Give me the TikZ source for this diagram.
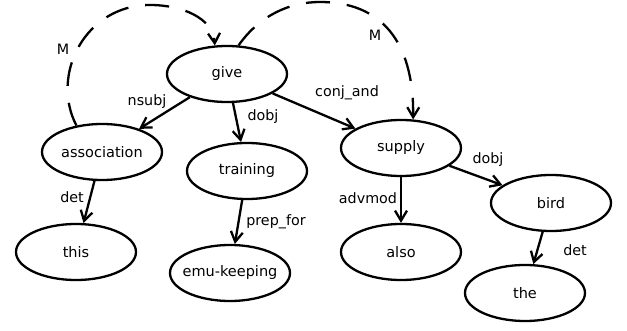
\documentclass[tikz,border=0pt]{standalone}
\usepackage{fontspec}
\setmainfont{DejaVu Sans}
\usetikzlibrary{shapes.geometric,arrows.meta}
\newcommand{\wordtext}[1]{\makebox[0pt]{#1}}
\begin{document}
\begin{tikzpicture}[x=1pt,y=-1pt,
  word/.style={ellipse,draw,line width=2.3pt,minimum width=120pt,minimum height=56pt,inner sep=0pt,font=\fontsize{14.5}{17}\selectfont},
  lbl/.style={inner sep=0pt,font=\fontsize{14.3}{17}\selectfont},
  edge/.style={line width=2.3pt,-{Straight Barb[length=10pt,width=12pt]}},
  mark edge/.style={edge,dash pattern=on 24pt off 17pt}]
\useasboundingbox (0,0) rectangle (627,331);
\node[word] (give) at (227,74) {\wordtext{give}};
\node[word] (association) at (102,152) {\wordtext{association}};
\node[word] (training) at (247,171) {\wordtext{training}};
\node[word] (supply) at (401,148) {\wordtext{supply}};
\node[word] (this) at (76,252) {\wordtext{this}};
\node[word] (emu) at (230,273) {\wordtext{emu-keeping}};
\node[word] (also) at (401,252) {\wordtext{also}};
\node[word] (bird) at (551,203) {\wordtext{bird}};
\node[word] (the) at (525,293) {\wordtext{the}};

\draw[edge] (give) -- (association);
\draw[edge] (give) -- (training);
\draw[edge] (give) -- (supply);
\draw[edge] (association) -- (this);
\draw[edge] (training) -- (emu);
\draw[edge] (supply) -- (also);
\draw[edge] (supply) -- (bird);
\draw[edge] (bird) -- (the);

\draw[mark edge] (association.134) .. controls (50,75) and (85,5) .. (150,5)
  .. controls (182,5) and (213,18) .. (give.113);
\draw[mark edge] (give.68) .. controls (260,15) and (290,2) .. (320,2)
  .. controls (380,2) and (414,40) .. (supply.67);

\node[lbl] (lnsubj) at (147,102) {nsubj};
\node[lbl] (ldobj1) at (263,117) {dobj};
\node[lbl] (lconj) at (347,93) {conj\_and};
\node[lbl] (ldobj2) at (488,160) {dobj};
\node[lbl] (ldet1) at (72,197) {det};
\node[lbl] (lprep) at (276,222) {prep\_for};
\node[lbl] (ladv) at (368,198) {advmod};
\node[lbl] (ldet2) at (575,250) {det};
\node[lbl] (lm1) at (63,49) {M};
\node[lbl] (lm2) at (375,35) {M};
\end{tikzpicture}
\end{document}
